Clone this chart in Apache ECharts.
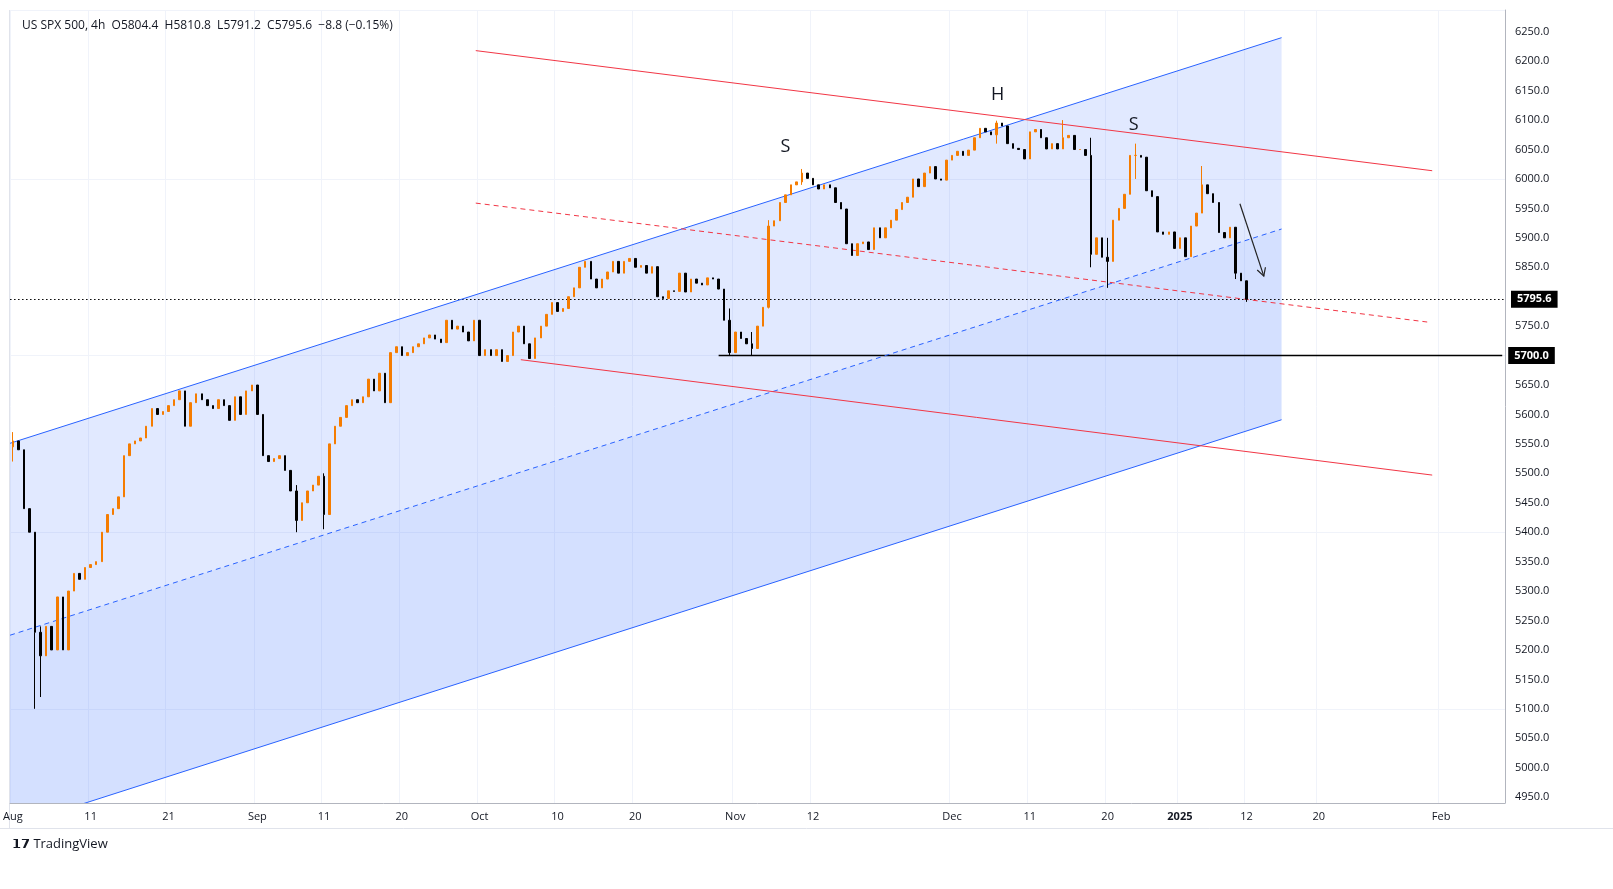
<!DOCTYPE html>
<html><head><meta charset="utf-8">
<script src="https://cdn.jsdelivr.net/npm/echarts@6/dist/echarts.min.js"></script>
<style>html,body{margin:0;padding:0;background:#fff;}#c{width:1613px;height:889px;}</style>
</head><body><div id="c"></div>
<script>
// trading days (2 bars per day, half-days 1 bar, last day partial)
const days = ['2024-08-01','2024-08-02','2024-08-05','2024-08-06','2024-08-07','2024-08-08','2024-08-09','2024-08-12','2024-08-13','2024-08-14','2024-08-15','2024-08-16','2024-08-19','2024-08-20','2024-08-21','2024-08-22','2024-08-23','2024-08-26','2024-08-27','2024-08-28','2024-08-29','2024-08-30',
'2024-09-03','2024-09-04','2024-09-05','2024-09-06','2024-09-09','2024-09-10','2024-09-11','2024-09-12','2024-09-13','2024-09-16','2024-09-17','2024-09-18','2024-09-19','2024-09-20','2024-09-23','2024-09-24','2024-09-25','2024-09-26','2024-09-27','2024-09-30',
'2024-10-01','2024-10-02','2024-10-03','2024-10-04','2024-10-07','2024-10-08','2024-10-09','2024-10-10','2024-10-11','2024-10-14','2024-10-15','2024-10-16','2024-10-17','2024-10-18','2024-10-21','2024-10-22','2024-10-23','2024-10-24','2024-10-25','2024-10-28','2024-10-29','2024-10-30','2024-10-31',
'2024-11-01','2024-11-04','2024-11-05','2024-11-06','2024-11-07','2024-11-08','2024-11-11','2024-11-12','2024-11-13','2024-11-14','2024-11-15','2024-11-18','2024-11-19','2024-11-20','2024-11-21','2024-11-22','2024-11-25','2024-11-26','2024-11-27','2024-11-29',
'2024-12-02','2024-12-03','2024-12-04','2024-12-05','2024-12-06','2024-12-09','2024-12-10','2024-12-11','2024-12-12','2024-12-13','2024-12-16','2024-12-17','2024-12-18','2024-12-19','2024-12-20','2024-12-23','2024-12-24','2024-12-26','2024-12-27','2024-12-30','2024-12-31',
'2025-01-02','2025-01-03','2025-01-06','2025-01-07','2025-01-08','2025-01-10','2025-01-13'];
const singleBarDays = ['2024-11-29','2024-12-24','2025-01-13'];
// closes per bar, in order
const closes = [5555,5540, 5440,5400, 5230,5190, 5240,5200, 5290,5200, 5300,5330, 5320,5340, 5345,5350, 5400,5430, 5440,5460, 5530,5550, 5555,5560, 5580,5610, 5600,5605, 5615,5625, 5640,5580, 5620,5635, 5625,5615, 5610,5625, 5615,5590, 5630,5600, 5640,5650,
5600,5530, 5520,5525, 5530,5505, 5470,5420, 5450,5470, 5480,5495, 5430,5550, 5580,5595, 5615,5625, 5620,5630, 5660,5640, 5670,5620, 5705,5715, 5700,5705, 5715,5720, 5730,5735, 5728,5722, 5760,5745, 5750,5740, 5725,5760,
5700,5710, 5700,5710, 5690,5700, 5740,5750, 5720,5695, 5730,5750, 5770,5790, 5775,5780, 5800,5815, 5850,5860, 5830,5815, 5830,5842, 5860,5840, 5860,5865, 5850,5853, 5840,5851, 5800,5797, 5810,5809, 5840,5808, 5830,5823, 5820,5832, 5830,5813, 5760,5705,
5740,5729, 5720,5712, 5750,5782, 5920,5929, 5960,5973, 5990,5995, 6010,6001, 5990,5983, 5990,5985, 5960,5949, 5890,5870, 5890,5893, 5880,5917, 5900,5917, 5930,5948, 5960,5969, 6000,5987, 6010,6021, 6000,5998, 6032,
6040,6047, 6040,6049, 6070,6086, 6080,6075, 6095,6090, 6060,6052, 6050,6034, 6080,6084, 6070,6051, 6060,6051, 6070,6074, 6050,6050, 6040,5872, 5900,5867, 5860,5930, 5950,5974, 6040, 6040,6037, 5980,5970, 5910,5906, 5910,5882,
5900,5868, 5920,5942, 5990,5975, 5960,5909, 5900,5918, 5840,5827, 5795.6];
const firstOpen = 5545;
// notable wick extremes: bar key -> [low, high]
const extremes = {'2024-08-01#0':[5520,5570],'2024-08-05#0':[5100,5290],'2024-08-05#1':[5120,5240],'2024-09-06#1':[5400,5480],'2024-09-11#0':[5405,5500],
'2024-10-31#1':[5700,5780],'2024-11-04#1':[5700,5740],'2024-11-06#0':[5780,5930],'2024-11-11#0':[5990,6017],'2024-12-06#0':[6060,6099],'2024-12-16#0':[6055,6100],
'2024-12-18#1':[5850,6070],'2024-12-20#0':[5815,5900],'2024-12-26#0':[6000,6060],'2025-01-06#0':[5950,6022],'2025-01-10#0':[5830,5900],'2025-01-13#0':[5791.2,5810.8]};
const futureBars = 46;
// x-axis tick labels: bar key -> label
const tickLabels = {'2024-08-01#0':'Aug','2024-08-12#0':'11','2024-08-21#0':'21','2024-09-03#0':'Sep','2024-09-11#0':'11','2024-09-20#0':'20','2024-10-01#0':'Oct','2024-10-10#0':'10','2024-10-21#0':'20','2024-11-01#0':'Nov','2024-11-12#0':'12','2024-12-02#0':'Dec','2024-12-11#0':'11','2024-12-20#0':'20','2025-01-02#0':'2025','2025-01-13#0':'12','F12':'20','F34':'Feb'};
const yTicks = [];
for (let v = 4950; v <= 6250; v += 50) yTicks.push(v);
// drawing annotations: [barIndex, price]
const upperBlue = [[-0.5,5551],[228.3,6240]];
const lowerBlue = [[-0.5,4899],[228.3,5591]];
const midBlue = [[-0.5,5225],[228.3,5915]];
const upperRed = [[83.3,6218],[255.4,6014]];
const lowerRed = [[91.4,5693],[255.4,5497]];
const midRed = [[83.3,5959],[254.5,5757]];
const supportLevel = 5700, supportStartBar = 127;
const lastPrice = 5795.6;
const arrowPts = [[220.8,5958],[225.1,5835]];
const patternLabels = [['S',139,6055],['H',177.2,6142],['S',201.7,6092]];

const cats = [];
days.forEach(d => { cats.push(d+'#0'); if (!singleBarDays.includes(d)) cats.push(d+'#1'); });
const nData = cats.length;
for (let i = 0; i < futureBars; i++) cats.push('F'+i);
const candles = [];
let prev = firstOpen;
for (let i = 0; i < nData; i++) {
  const o = prev, c = closes[i];
  let lo = Math.min(o,c), hi = Math.max(o,c);
  const e = extremes[cats[i]];
  if (e) { lo = Math.min(lo,e[0]); hi = Math.max(hi,e[1]); }
  candles.push([o,c,lo,hi]);
  prev = c;
}

function poly(top, bot, color) {
  return {type:'custom', silent:true, z:1, clip:true, data:[0],
    renderItem:(p, api) => {
      const w = api.size([1,0])[0], x0 = api.coord([0,0])[0];
      const fx = i => x0 + i*w, fy = v => api.coord([0,v])[1];
      const P = [[fx(top[0][0]),fy(top[0][1])],[fx(top[1][0]),fy(top[1][1])],[fx(bot[1][0]),fy(bot[1][1])],[fx(bot[0][0]),fy(bot[0][1])]];
      return {type:'polygon', shape:{points:P}, style:{fill:color}};
    }};
}
function seg(pts, color, dashed) {
  return {type:'custom', silent:true, z:3, clip:true, data:[0],
    renderItem:(p, api) => {
      const w = api.size([1,0])[0], x0 = api.coord([0,0])[0];
      const a = [x0+pts[0][0]*w, api.coord([0,pts[0][1]])[1]];
      const b = [x0+pts[1][0]*w, api.coord([0,pts[1][1]])[1]];
      return {type:'line', shape:{x1:a[0],y1:a[1],x2:b[0],y2:b[1]}, style:{stroke:color, lineWidth:1, lineDash:dashed?[5,4]:null}};
    }};
}
const arrowSeries = {type:'custom', silent:true, z:5, clip:false, data:[0],
  renderItem:(p, api) => {
    const w = api.size([1,0])[0], x0 = api.coord([0,0])[0];
    const a = [x0+arrowPts[0][0]*w, api.coord([0,arrowPts[0][1]])[1]];
    const b = [x0+arrowPts[1][0]*w, api.coord([0,arrowPts[1][1]])[1]];
    const ang = Math.atan2(b[1]-a[1], b[0]-a[0]);
    const L = 9, s = 0.5;
    const h1 = [b[0]-L*Math.cos(ang-s), b[1]-L*Math.sin(ang-s)];
    const h2 = [b[0]-L*Math.cos(ang+s), b[1]-L*Math.sin(ang+s)];
    return {type:'group', children:[
      {type:'line', shape:{x1:a[0],y1:a[1],x2:b[0],y2:b[1]}, style:{stroke:'#222',lineWidth:1.2}},
      {type:'polyline', shape:{points:[h1,b,h2]}, style:{stroke:'#222',lineWidth:1.2,fill:null}}]};
  }};
const textSeries = {type:'custom', silent:true, z:6, clip:false, data:patternLabels.map((l,i)=>i),
  renderItem:(p, api) => {
    const l = patternLabels[p.dataIndex];
    const w = api.size([1,0])[0], x0 = api.coord([0,0])[0];
    return {type:'text', x:x0+l[1]*w, y:api.coord([0,l[2]])[1], style:{text:l[0], fill:'#131722', font:'18px "Open Sans", sans-serif', align:'center', verticalAlign:'middle'}};
  }};

const priceLabel = {show:true, position:'end', backgroundColor:'#000', color:'#fff', fontWeight:'bold', fontSize:11, padding:[3,6], distance:6, fontFamily:'"Open Sans", sans-serif'};
const chart = echarts.init(document.getElementById('c'));
const isTick = (i, v) => tickLabels[v] !== undefined;
chart.setOption({
  animation:false,
  backgroundColor:'#fff',
  title:{text:'US SPX 500, 4h  O5804.4  H5810.8  L5791.2  C5795.6  −8.8 (−0.15%)', left:17, top:15, textStyle:{fontSize:12, fontWeight:'normal', color:'#131722', fontFamily:'"Open Sans", sans-serif'}},
  graphic:[
    {type:'text', left:12, top:838, style:{text:'𝟭𝟳 TradingView', fill:'#131722', font:'13px "Open Sans", sans-serif'}},
    {type:'line', shape:{x1:0,y1:828.5,x2:1613,y2:828.5}, style:{stroke:'#e0e3eb'}},
    {type:'line', shape:{x1:9.5,y1:10,x2:9.5,y2:828}, style:{stroke:'#e0e3eb'}}
  ],
  grid:{left:10, right:108, top:10, bottom:86},
  xAxis:{type:'category', data:cats, boundaryGap:true,
    axisLine:{show:true, lineStyle:{color:'#b2b5be'}}, axisTick:{show:false},
    axisLabel:{interval:isTick, formatter:v => tickLabels[v]==='2025' ? '{b|2025}' : (tickLabels[v]||''), color:'#131722', fontSize:11, margin:8, fontFamily:'"Open Sans", sans-serif',
      rich:{b:{fontWeight:'bold', fontSize:11, color:'#131722'}}},
    splitLine:{show:true, interval:isTick, lineStyle:{color:'#f0f3fa'}}},
  yAxis:{type:'value', position:'right', min:4940, max:6287,
    axisLine:{show:true, lineStyle:{color:'#b2b5be'}}, axisTick:{show:false},
    axisLabel:{customValues:yTicks, formatter:v=>v.toFixed(1), color:'#131722', fontSize:11, margin:10, fontFamily:'"Open Sans", sans-serif'},
    splitLine:{show:true, lineStyle:{color:'#f0f3fa'}}},
  series:[
    poly(upperBlue, midBlue, 'rgba(41,98,255,0.14)'),
    poly(midBlue, lowerBlue, 'rgba(41,98,255,0.20)'),
    seg(upperBlue,'#2962ff',false), seg(lowerBlue,'#2962ff',false), seg(midBlue,'#2962ff',true),
    seg(upperRed,'#f23645',false), seg(lowerRed,'#f23645',false), seg(midRed,'#f23645',true),
    {type:'candlestick', data:candles, barWidth:2, z:4,
      itemStyle:{color:'#f57c00', color0:'#000', borderColor:'#f57c00', borderColor0:'#000', borderWidth:1},
      markLine:{silent:true, symbol:'none', z:3, data:[
        {yAxis:lastPrice, lineStyle:{type:[1.5,2.5], color:'#000', width:1}, label:Object.assign({formatter:'5795.6'}, priceLabel)},
        [{coord:[supportStartBar, supportLevel], lineStyle:{type:'solid', color:'#000', width:1.3}, label:Object.assign({formatter:'5700.0'}, priceLabel)},
         {coord:[cats.length-1, supportLevel]}]
      ]}},
    arrowSeries, textSeries
  ]
});
</script></body></html>
